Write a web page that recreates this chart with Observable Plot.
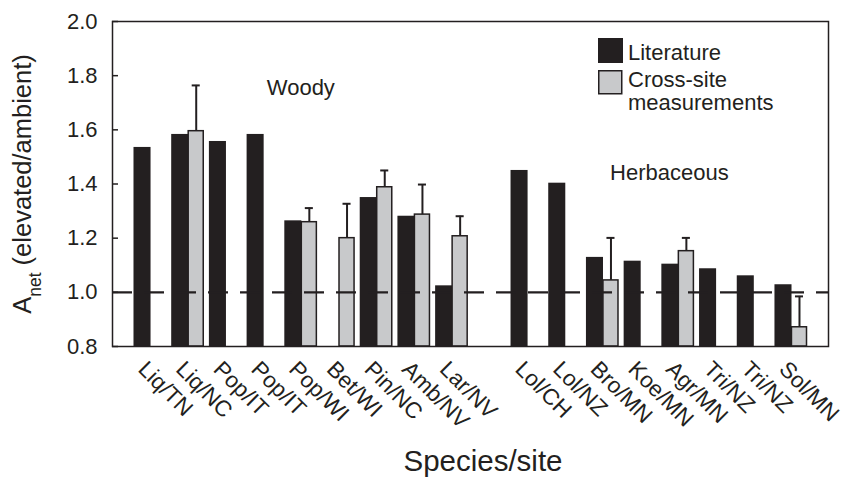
<!DOCTYPE html>
<html>
<head>
<meta charset="utf-8">
<script src="https://cdn.jsdelivr.net/npm/d3@7"></script>
<script src="https://cdn.jsdelivr.net/npm/@observablehq/plot@0.6"></script>
<style>
  html, body { margin: 0; padding: 0; background: #fff; }
  #chart { width: 845px; height: 478px; }
</style>
</head>
<body>
<div id="chart"></div>
<script>
// ---- data ----
const slots = ["Liq/TN","Liq/NC","Pop/IT","Pop/IT","Pop/WI","Bet/WI","Pin/NC","Amb/NV","Lar/NV","",
               "Lol/CH","Lol/NZ","Bro/MN","Koe/MN","Agr/MN","Tri/NZ","Tri/NZ","Sol/MN"];
const literature = [1.535, 1.583, 1.557, 1.583, 1.264, null, 1.350, 1.281, 1.024, null,
                    1.450, 1.403, 1.129, 1.115, 1.104, 1.087, 1.061, 1.028];
const crossSite = [null, 1.595, null, null, 1.259, 1.200, 1.388, 1.287, 1.207, null,
                   null, null, 1.044, null, 1.152, null, null, 0.871];
const crossSiteErrTop = [null, 1.764, null, null, 1.311, 1.327, 1.450, 1.398, 1.281, null,
                         null, null, 1.201, null, 1.201, null, null, 0.985];
const yTicks = [0.8, 1.0, 1.2, 1.4, 1.6, 1.8, 2.0];
const reference = [1.0];
const groupLabels = ["Woody", "Herbaceous"];
const groupSlot = [4, 14];
const groupY = [1.755, 1.44];
const seriesNames = ["Literature", "Cross-site measurements"];
const seriesColors = ["#231f20", "#c8c9cb"];
const ink = "#231f20";
const font = "'Liberation Sans', Arial, Helvetica, sans-serif";

// ---- tables built from arrays ----
const idx = d3.range(slots.length);
const litRows = idx.filter(i => literature[i] != null).map(i => ({i, v: literature[i]}));
const crossRows = idx.filter(i => crossSite[i] != null).map(i => ({i, v: crossSite[i], e: crossSiteErrTop[i]}));
const errRows = crossRows.filter(d => d.e != null);
const groups = groupLabels.map((label, k) => ({label, slot: groupSlot[k], y: groupY[k]}));
const baseline = yTicks[0];

const plot = Plot.plot({
  width: 845,
  height: 478,
  marginLeft: 112,
  marginRight: 17,
  marginTop: 21,
  marginBottom: 132,
  style: {fontFamily: font, fontSize: "22px", color: ink, background: "white", overflow: "visible"},
  x: {domain: idx, paddingInner: 0.15, paddingOuter: 0.57, align: 0.5, round: false},
  y: {domain: [yTicks[0], yTicks[yTicks.length - 1]]},
  marks: [
    Plot.barY(litRows, {x: "i", y1: baseline, y2: "v", fill: seriesColors[0], insetRight: 15}),
    Plot.barY(crossRows, {x: "i", y1: baseline, y2: "v", fill: seriesColors[1], stroke: ink, strokeWidth: 1.5, insetLeft: 17}),
    Plot.ruleX(errRows, {x: "i", y1: "v", y2: "e", dx: 8.5, stroke: ink, strokeWidth: 2}),
    Plot.tickY(errRows, {x: "i", y: "e", dx: 8.5, insetLeft: 12, insetRight: 12, stroke: ink, strokeWidth: 2}),
    Plot.ruleY(reference, {stroke: ink, strokeWidth: 2.2, strokeDasharray: "20,12"}),
    Plot.frame({stroke: ink, strokeWidth: 1.5}),
    Plot.tickY(yTicks, {y: d => d, insetRight: 710, stroke: ink, strokeWidth: 1.5}),
    Plot.axisY(yTicks, {tickSize: 0, tickPadding: 15, tickFormat: d3.format(".1f"), label: null, fontSize: 22}),
    Plot.axisX({tickSize: 0, tickPadding: 6, tickRotate: 45, dx: -8, dy: 13, fontSize: 22.5, tickFormat: i => slots[i], label: null}),
    Plot.text(groups.slice(0, 1), {x: "slot", y: "y", text: "label", fill: ink, fontSize: 22}),
    Plot.text(groups.slice(1), {x: "slot", y: "y", text: "label", fill: ink, fontSize: 22, dx: -8.5})
  ]
});

document.getElementById("chart").appendChild(plot);

// ---- axis titles / legend ----
const svg = d3.select(plot);

const yl = svg.append("text")
  .attr("transform", "translate(31,184) rotate(-90)")
  .attr("text-anchor", "middle")
  .attr("fill", ink)
  .style("font-family", font)
  .style("font-size", "25.5px");
yl.append("tspan").text("A");
yl.append("tspan").attr("baseline-shift", "sub").style("font-size", "17.5px").text("net");
yl.append("tspan").text(" (elevated/ambient)");

svg.append("text")
  .attr("x", 483).attr("y", 471)
  .attr("text-anchor", "middle")
  .attr("fill", ink)
  .style("font-family", font)
  .style("font-size", "29.5px")
  .text("Species/site");

// legend
const lg = svg.append("g").attr("text-anchor", "start").style("font-family", font).style("font-size", "22px");
lg.append("rect").attr("x", 598).attr("y", 38).attr("width", 25).attr("height", 25).attr("fill", seriesColors[0]);
lg.append("text").attr("x", 628).attr("y", 60).attr("fill", ink).text(seriesNames[0]);
lg.append("rect").attr("x", 598.75).attr("y", 70.75).attr("width", 23).attr("height", 23)
  .attr("fill", seriesColors[1]).attr("stroke", ink).attr("stroke-width", 1.5);
const parts = seriesNames[1].split(" ");
lg.append("text").attr("x", 628).attr("y", 87).attr("fill", ink).text(parts[0]);
lg.append("text").attr("x", 628).attr("y", 110).attr("fill", ink).text(parts[1]);
</script>
</body>
</html>
